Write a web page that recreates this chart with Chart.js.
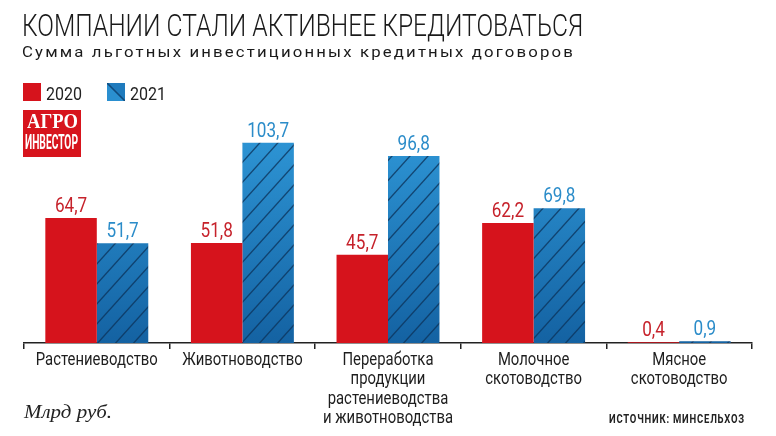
<!DOCTYPE html>
<html>
<head>
<meta charset="utf-8">
<script src="https://cdn.jsdelivr.net/npm/chart.js@4/dist/chart.umd.min.js"></script>
<style>
  body { margin: 0; background: #fff; width: 776px; height: 436px; overflow: hidden; position: relative;
         font-family: Roboto, "DejaVu Sans Condensed", sans-serif; color: #222; }
  #c { position: absolute; left: 0; top: 0; }
  .abs { position: absolute; white-space: nowrap; transform-origin: left top; }
  #title { left: 22px; top: 10px; font-size: 31px; line-height: 31px; font-weight: 300; color: #1a1a1a; }
  #subtitle { left: 22px; top: 45px; font-size: 15.5px; line-height: 15.5px; letter-spacing: 2px; color: #1a1a1a; }
  #legend { left: 23px; top: 83px; height: 18px; }
  #legend .sw { position: absolute; top: 0; width: 18px; height: 18px; }
  #legend .tx { position: absolute; top: 2px; font-size: 18px; line-height: 18px; transform-origin: left top; white-space: nowrap; }
  #logo { left: 23px; top: 110px; width: 58px; height: 47px; background: #d7141d; }
  #logo .t { position: absolute; color: #fff; font-weight: bold; white-space: nowrap; transform-origin: left top; }
  #logo .a { left: 4px; top: 0px; font-family: "Liberation Serif", serif; font-size: 22px; line-height: 22px; }
  #logo .b { left: 2px; top: 22px; font-size: 21px; line-height: 21px; }
  #unit { left: 24px; top: 402px; font-family: "Liberation Serif", serif; font-style: italic; font-size: 19px; line-height: 19px; color: #222; }
  #source { left: 609px; top: 413px; font-weight: bold; font-size: 12px; line-height: 12px; letter-spacing: 1px; color: #222; }
</style>
</head>
<body>
<canvas id="c" width="776" height="436"></canvas>
<div class="abs" id="title">КОМПАНИИ СТАЛИ АКТИВНЕЕ КРЕДИТОВАТЬСЯ</div>
<div class="abs" id="subtitle">Сумма льготных инвестиционных кредитных договоров</div>
<div class="abs" id="legend"></div>
<div class="abs" id="logo"><div class="t a">АГРО</div><div class="t b">ИНВЕСТОР</div></div>
<div class="abs" id="unit">Млрд руб.</div>
<div class="abs" id="source">ИСТОЧНИК: МИНСЕЛЬХОЗ</div>
<script>
const categories = [
  'Растениеводство',
  'Животноводство',
  ['Переработка', 'продукции', 'растениеводства', 'и животноводства'],
  ['Молочное', 'скотоводство'],
  ['Мясное', 'скотоводство']
];
const seriesNames = ['2020', '2021'];
const values2020 = [64.7, 51.8, 45.7, 62.2, 0.4];
const values2021 = [51.7, 103.7, 96.8, 69.8, 0.9];

const RED = '#d6131c';
const RED_TEXT = '#c6222b';
const BLUE_TEXT = '#2b8cc9';
const FONT = "Roboto, 'DejaVu Sans Condensed', sans-serif";

// squeeze text horizontally so it reads like a condensed face
function fit(el, w) {
  const cur = el.getBoundingClientRect().width;
  el.style.transform = 'scaleX(' + (w / cur) + ')';
}

let hatch = null;
function hatchPattern(chart) {
  const area = chart.chartArea;
  if (!area) return '#2386c8';
  if (hatch) return hatch;
  const off = document.createElement('canvas');
  off.width = chart.width;
  off.height = chart.height;
  const g = off.getContext('2d');
  const grad = g.createLinearGradient(0, area.top + 40, 0, area.bottom);
  grad.addColorStop(0, '#2e96d6');
  grad.addColorStop(1, '#1462a2');
  g.fillStyle = grad;
  g.fillRect(0, 0, off.width, off.height);
  g.strokeStyle = 'rgba(12,52,92,0.8)';
  g.lineWidth = 1.3;
  const h = off.height;
  for (let k = -h; k < off.width + h; k += 18) {
    g.beginPath();
    g.moveTo(k, h);
    g.lineTo(k + h * 0.9, 0);
    g.stroke();
  }
  hatch = chart.ctx.createPattern(off, 'no-repeat');
  return hatch;
}

// value labels above bars + category labels under the axis
const textPlugin = {
  id: 'textPlugin',
  afterDraw(chart) {
    const ctx = chart.ctx;
    const xs = chart.scales.x;
    ctx.save();
    ctx.textAlign = 'center';
    ctx.textBaseline = 'alphabetic';

    ctx.font = '19.5px ' + FONT;
    chart.data.datasets.forEach((ds, i) => {
      ctx.fillStyle = i === 0 ? RED_TEXT : BLUE_TEXT;
      chart.getDatasetMeta(i).data.forEach((bar, j) => {
        ctx.save();
        ctx.translate(bar.x, bar.y - 6);
        ctx.scale(0.88, 1);
        ctx.fillText(String(ds.data[j]).replace('.', ','), 0, 0);
        ctx.restore();
      });
    });

    ctx.font = '18px ' + FONT;
    ctx.fillStyle = '#1e1e1e';
    const sq = 122 / ctx.measureText(categories[0]).width;
    chart.data.labels.forEach((lab, i) => {
      const lines = Array.isArray(lab) ? lab : [lab];
      const x = xs.getPixelForValue(i);
      lines.forEach((ln, k) => {
        ctx.save();
        ctx.translate(x, xs.top + 22 + k * 19.3);
        ctx.scale(sq, 1);
        ctx.fillText(ln, 0, 0);
        ctx.restore();
      });
    });
    ctx.restore();
  }
};

const chart = new Chart(document.getElementById('c'), {
  type: 'bar',
  data: {
    labels: categories,
    datasets: [
      { label: seriesNames[0], data: values2020, backgroundColor: RED },
      { label: seriesNames[1], data: values2021, backgroundColor: (c) => hatchPattern(c.chart) }
    ]
  },
  options: {
    responsive: false,
    animation: false,
    events: [],
    layout: { padding: { top: 92, left: 24, right: 24, bottom: 0 } },
    datasets: { bar: { categoryPercentage: 0.707, barPercentage: 1 } },
    plugins: { legend: { display: false }, tooltip: { enabled: false } },
    scales: {
      y: { display: false, min: 0, max: 130 },
      x: {
        afterFit: (s) => { s.height = 93; },
        border: { color: '#222', width: 1.5 },
        grid: { drawOnChartArea: false, color: '#222', lineWidth: 1.5, tickLength: 6, offset: true },
        ticks: { display: false }
      }
    }
  },
  plugins: [textPlugin]
});

// html legend from datasets
const legend = document.getElementById('legend');
const swX = [0, 84];
chart.data.datasets.forEach((ds, i) => {
  const sw = document.createElement('div');
  sw.className = 'sw';
  sw.style.left = swX[i] + 'px';
  sw.style.background = i === 0 ? RED
    : 'linear-gradient(to top right, #2a8fd0 46%, #0f4a7c 48%, #0f4a7c 52%, #1f7bbd 54%)';
  const tx = document.createElement('div');
  tx.className = 'tx';
  tx.style.left = (swX[i] + 23) + 'px';
  tx.textContent = ds.label;
  legend.appendChild(sw);
  legend.appendChild(tx);
  fit(tx, 36);
});

fit(document.getElementById('title'), 561);
fit(document.getElementById('subtitle'), 553);
fit(document.querySelector('#logo .a'), 51);
fit(document.querySelector('#logo .b'), 53);
fit(document.getElementById('unit'), 88);
fit(document.getElementById('source'), 136);
</script>
</body>
</html>
